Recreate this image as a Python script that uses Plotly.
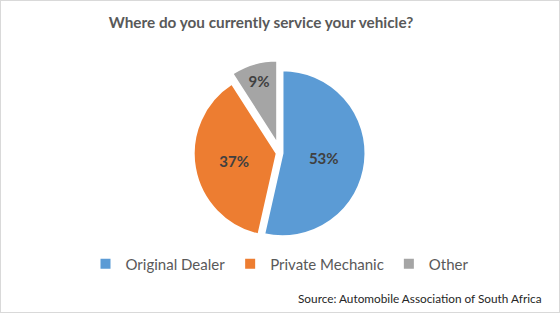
import plotly.graph_objects as go

categories = ["Original Dealer", "Private Mechanic", "Other"]
values = [53, 37, 9]
colors = ["#5B9BD5", "#ED7D31", "#A5A5A5"]

W, H = 560, 313
r = 83
pulls = [0.03, 0.04, 0.12]
pull_max = max(pulls)
cx, cy = 280, 153
half = r * (1 + pull_max)

fig = go.Figure(go.Pie(
    labels=categories,
    values=values,
    marker=dict(colors=colors, line=dict(color="white", width=2)),
    sort=False,
    direction="clockwise",
    rotation=0,
    pull=pulls,
    texttemplate="<b>%{value}%</b>",
    textposition="inside",
    insidetextorientation="horizontal",
    textfont=dict(family="Lato", size=15, color="#404040"),
    domain=dict(x=[(cx - half) / W, (cx + half) / W],
                y=[(H - cy - half) / H, (H - cy + half) / H]),
    hoverinfo="label+percent",
))

fig.update_layout(
    width=W, height=H,
    margin=dict(l=0, r=0, t=0, b=0),
    paper_bgcolor="white",
    title=dict(text="<b>Where do you currently service your vehicle?</b>",
               x=261 / W, xanchor="center", y=1 - 23 / H, yanchor="middle",
               font=dict(family="Lato", size=15.3, color="#595959")),
    legend=dict(orientation="h", x=0.5, xanchor="center", y=1 - 264 / H, yanchor="middle",
                font=dict(family="Lato", size=15, color="#595959"),
                itemwidth=30, traceorder="normal"),
    annotations=[dict(text="Source: Automobile Association of South Africa",
                      x=1 - 16 / W, xanchor="right", y=1 - 298 / H, yanchor="middle",
                      xref="paper", yref="paper", showarrow=False,
                      font=dict(family="Lato", size=11.8, color="#262626"))],
    shapes=[dict(type="rect", xref="paper", yref="paper", x0=0, y0=0, x1=1, y1=1,
                 line=dict(color="#D9D9D9", width=2))],
)

fig.write_html("out.html")
